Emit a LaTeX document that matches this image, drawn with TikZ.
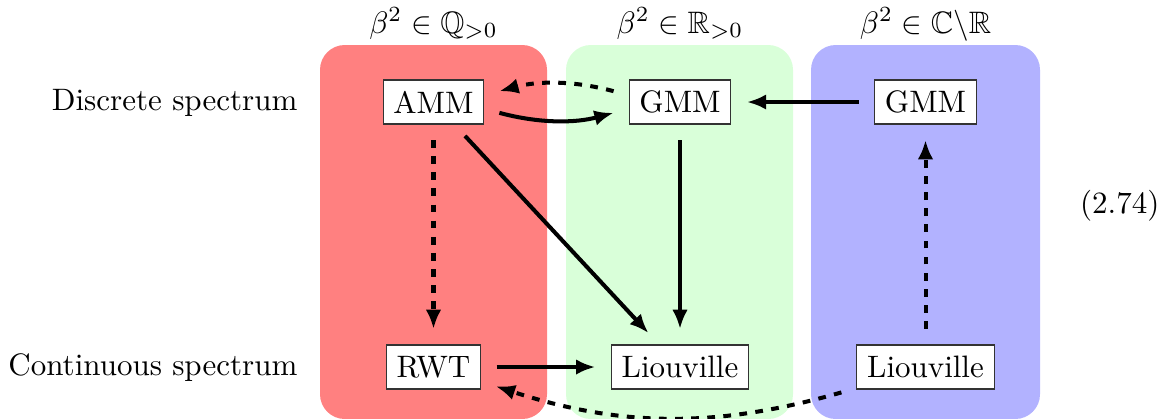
\documentclass[tikz,border=0pt]{standalone}
\usepackage{amssymb}
\usetikzlibrary{arrows.meta}
\begin{document}
\begin{tikzpicture}[x=0.32258pt,y=0.32258pt,
  box/.style={draw=black!80, fill=white, line width=0.35pt, minimum height=14.2pt, inner xsep=3.33pt},
  arr/.style={line width=1.3pt, -{Latex[length=6.2pt,width=5pt]}, shorten >=5pt, shorten <=5pt},
  dasharr/.style={arr, dash pattern=on 2.5pt off 2.7pt},
  panel/.style={rounded corners=8pt},
  lbl/.style={inner sep=0pt}]
\useasboundingbox (0,0) rectangle (1176,-418);
% panels
\fill[red!50, panel] (320,-45) rectangle (547,-419);
\fill[green!15, panel] (566,-45) rectangle (793,-419);
\fill[blue!30, panel] (811,-45) rectangle (1040,-419);
% titles
\node[anchor=base] (tQ) at (433.5,-33) {$\beta^2\in\mathbb{Q}_{>0}$};
\node[anchor=base] (tR) at (680,-33) {$\beta^2\in\mathbb{R}_{>0}$};
\node[anchor=base] (tC) at (925.5,-33) {$\beta^2\in\mathbb{C}\backslash\mathbb{R}$};
% row labels
\node[lbl, anchor=base east] (disc) at (298,-110) {Discrete spectrum};
\node[lbl, anchor=base east] (cont) at (298,-375) {Continuous spectrum};
\node[lbl, anchor=base east] (eq) at (1160,-213) {(2.74)};
% nodes
\node[box] (AMM) at (433.5,-102) {AMM};
\node[box] (GMMg) at (680,-102) {GMM};
\node[box] (GMMb) at (925.5,-102) {GMM};
\node[box] (RWT) at (433.5,-367) {RWT};
\node[box] (LIOg) at (680,-367) {Liouville};
\node[box] (LIOb) at (925.5,-367) {Liouville};
% arrows
\draw[arr] ([yshift=-2.2pt]AMM.east) to[bend right=15] ([yshift=-2.2pt]GMMg.west);
\draw[dasharr] ([yshift=2.2pt]GMMg.west) to[bend right=15] ([yshift=2.2pt]AMM.east);
\draw[arr] (GMMb) -- (GMMg);
\draw[dasharr] (AMM) -- (RWT);
\draw[arr] (AMM) -- (LIOg);
\draw[arr] (GMMg) -- (LIOg);
\draw[arr] (RWT) -- (LIOg);
\draw[dasharr] (LIOb) -- (GMMb);
\draw[dasharr] (LIOb) to[bend left=17] (RWT);
\end{tikzpicture}
\end{document}
